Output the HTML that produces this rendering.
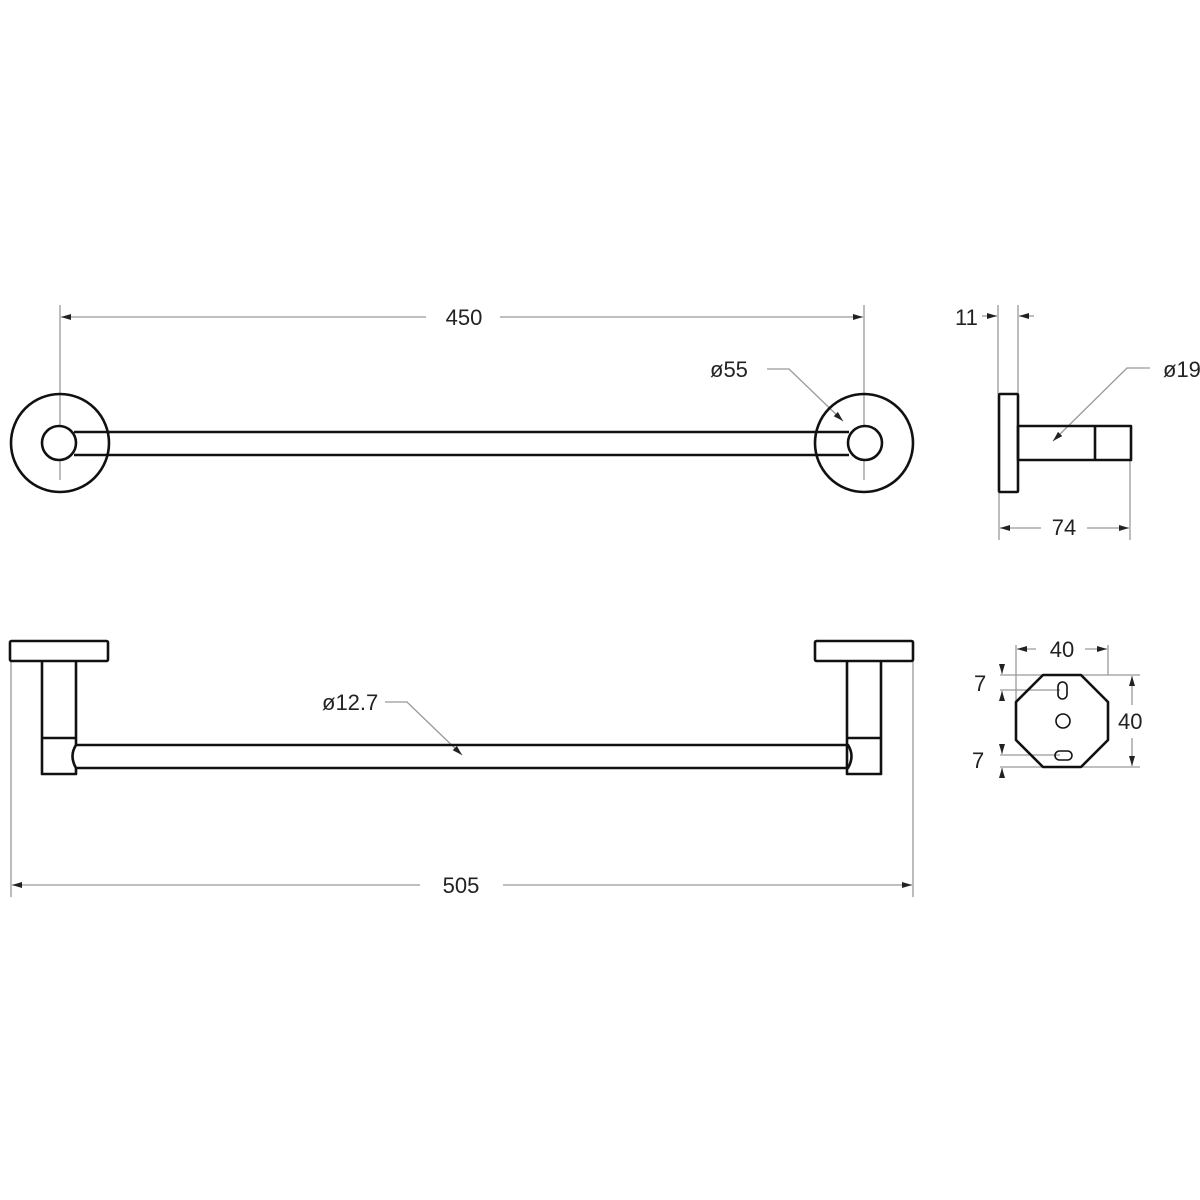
<!DOCTYPE html>
<html><head><meta charset="utf-8"><style>
html,body{margin:0;padding:0;background:#fff}
svg{display:block}
text{font-family:"Liberation Sans",sans-serif;font-size:22px;fill:#222}
</style></head><body>
<svg width="1200" height="1200" viewBox="0 0 1200 1200" xmlns="http://www.w3.org/2000/svg">
<defs>
<marker id="a" viewBox="0 0 10 6" refX="10" refY="3" markerWidth="10" markerHeight="6" orient="auto-start-reverse" markerUnits="userSpaceOnUse"><path d="M0,0 L10,3 L0,6 z" fill="#222"/></marker>
</defs>
<g stroke="#999" stroke-width="1.3" fill="none">
<!-- top view dims -->
<line x1="60" y1="305" x2="60" y2="480"/>
<line x1="864" y1="305" x2="864" y2="480"/>
<line x1="61" y1="317" x2="426" y2="317" marker-start="url(#a)"/>
<line x1="500" y1="317" x2="863" y2="317" marker-end="url(#a)"/>
<polyline points="767,369 789,369 843,421" marker-end="url(#a)"/>
<!-- side view dims -->
<line x1="998" y1="305" x2="998" y2="394"/>
<line x1="1018" y1="305" x2="1018" y2="394"/>
<line x1="982" y1="316" x2="997" y2="316" marker-end="url(#a)"/>
<line x1="1034" y1="316" x2="1019" y2="316" marker-end="url(#a)"/>
<line x1="999" y1="492" x2="999" y2="540"/>
<line x1="1130" y1="460" x2="1130" y2="540"/>
<line x1="1000" y1="528" x2="1041" y2="528" marker-start="url(#a)"/>
<line x1="1087" y1="528" x2="1129" y2="528" marker-end="url(#a)"/>
<polyline points="1150,368 1127,368 1053,441" marker-end="url(#a)"/>
<!-- front view dims -->
<line x1="11" y1="661" x2="11" y2="897"/>
<line x1="913" y1="661" x2="913" y2="897"/>
<line x1="12" y1="885" x2="420" y2="885" marker-start="url(#a)"/>
<line x1="503" y1="885" x2="912" y2="885" marker-end="url(#a)"/>
<polyline points="385,702 407,702 462,755" marker-end="url(#a)"/>
<!-- octagon dims -->
<line x1="1016" y1="645" x2="1016" y2="720"/>
<line x1="1108" y1="645" x2="1108" y2="675"/>
<line x1="1017" y1="649" x2="1036" y2="649" marker-start="url(#a)"/>
<line x1="1085" y1="649" x2="1107" y2="649" marker-end="url(#a)"/>
<line x1="1000" y1="675" x2="1140" y2="675"/>
<line x1="1000" y1="767" x2="1140" y2="767"/>
<line x1="1132" y1="676" x2="1132" y2="705" marker-start="url(#a)"/>
<line x1="1132" y1="738" x2="1132" y2="766" marker-end="url(#a)"/>
<line x1="1000" y1="690" x2="1060" y2="690"/>
<line x1="1000" y1="755" x2="1060" y2="755"/>
<line x1="1002" y1="664" x2="1002" y2="674" marker-end="url(#a)"/>
<line x1="1002" y1="701" x2="1002" y2="691" marker-end="url(#a)"/>
<line x1="1002" y1="744" x2="1002" y2="754" marker-end="url(#a)"/>
<line x1="1002" y1="778" x2="1002" y2="768" marker-end="url(#a)"/>
</g>
<g stroke="#111" stroke-width="2.6" fill="none" stroke-linejoin="round">
<!-- top view -->
<circle cx="60" cy="443" r="49"/>
<circle cx="864" cy="443" r="49"/>
<path d="M74,432 H849 M74,455 H849" />
<circle cx="59" cy="443" r="17" fill="#fff"/>
<circle cx="865" cy="443" r="17" fill="#fff"/>
<!-- side view -->
<rect x="999" y="394" width="19" height="98" rx="1"/>
<rect x="1018" y="426" width="113" height="34"/>
<line x1="1095" y1="426" x2="1095" y2="460"/>
<!-- front view -->
<rect x="10" y="641" width="98" height="20" rx="1.5"/>
<rect x="815" y="641" width="98" height="20" rx="1.5"/>
<path d="M42,661 V774 H76 V768 M76,745 V661 M42,738 H76"/>
<path d="M847,661 V774 H881 V661 M847,738 H881"/>
<path d="M76,745 H848 Q855,756 848,768 H76 Q69,756 76,745 z"/>
<!-- octagon -->
<polygon points="1043,675 1081,675 1108,702 1108,740 1081,767 1043,767 1016,740 1016,702"/>
</g>
<g stroke="#111" stroke-width="1.6" fill="none">
<rect x="1058" y="682" width="9" height="17" rx="4.5"/>
<circle cx="1063" cy="721" r="7"/>
<rect x="1055" y="751" width="17" height="9" rx="4.5"/>
</g>
<text x="464" y="325" text-anchor="middle">450</text>
<text x="710" y="377">ø55</text>
<text x="1163" y="377">ø19</text>
<text x="955" y="325">11</text>
<text x="1064" y="535" text-anchor="middle">74</text>
<text x="322" y="710">ø12.7</text>
<text x="461" y="893" text-anchor="middle">505</text>
<text x="1062" y="657" text-anchor="middle">40</text>
<text x="1118" y="729">40</text>
<text x="974" y="691">7</text>
<text x="972" y="768">7</text>
</svg>
</body></html>
